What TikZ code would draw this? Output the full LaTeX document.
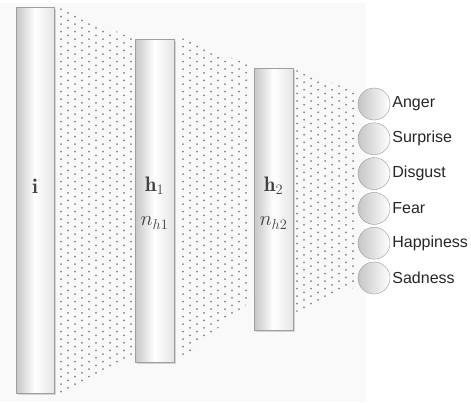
\documentclass[tikz,border=0pt]{standalone}
\usepackage{fontspec}
\setsansfont{Liberation Sans}
\usetikzlibrary{positioning,shadows}

\definecolor{bgpanel}{RGB}{248,249,248}
\definecolor{dotgray}{RGB}{130,130,130}
\definecolor{labelgray}{RGB}{65,65,65}

\begin{document}
\begin{tikzpicture}[x=1pt,y=-1pt,
layernode/.style={rectangle, draw=gray!75, thin, inner sep=0pt,
  left color=gray!45, right color=gray!20, middle color=white,
  drop shadow={shadow xshift=1.5pt, shadow yshift=-1.5pt, opacity=0.3}},
mathlabel/.style={font=\fontsize{21}{24}\selectfont, text=labelgray},
classnode/.style={circle, draw=gray!80, thin, minimum size=32pt, inner sep=0pt,
  left color=gray!45, right color=white},
classlabel/.style={font=\sffamily\fontsize{16}{18}\selectfont, text=black!85, anchor=west, inner sep=0pt},
]

\useasboundingbox (0,0) rectangle (471,402);
\fill[bgpanel] (0,3) rectangle (366,402);

% Dot fields between the layers
\begin{scope}
\clip (60,8) -- (132,38) -- (132,358) -- (60,394) -- cycle;
\foreach \i in {0,...,10}
  \foreach \j in {0,...,52}
    \fill[dotgray] ({61+7*\i},{9+7.5*\j+3.75*mod(\i,2)}) circle (1);
\end{scope}

\begin{scope}
\clip (182,38) -- (252,66) -- (252,300) -- (182,358) -- cycle;
\foreach \i in {0,...,10}
  \foreach \j in {0,...,44}
    \fill[dotgray] ({183+7*\i},{39+7.5*\j+3.75*mod(\i,2)}) circle (1);
\end{scope}

\begin{scope}
\clip (296,70) -- (358,92) -- (358,286) -- (296,312) -- cycle;
\foreach \i in {0,...,9}
  \foreach \j in {0,...,33}
    \fill[dotgray] ({297+7*\i},{71+7.5*\j+3.75*mod(\i,2)}) circle (1);
\end{scope}

% Layers
\node[layernode, minimum width=38pt, minimum height=386pt] (inp) at (35,200) {};
\node[layernode, minimum width=39pt, minimum height=323pt] (hid1) at (154.5,200.5) {};
\node[layernode, minimum width=39pt, minimum height=262pt] (hid2) at (273.5,199) {};

\node[mathlabel] (inplab) at (35,186) {$\mathbf{i}$};
\node[mathlabel] (h1lab) at (154.5,186) {$\mathbf{h}_1$};
\node[mathlabel] (n1lab) at (154.5,223) {$n_{h1}$};
\node[mathlabel] (h2lab) at (273.5,186) {$\mathbf{h}_2$};
\node[mathlabel] (n2lab) at (273.5,223) {$n_{h2}$};

% Output classes
\foreach \name/\k in {Anger/0, Surprise/1, Disgust/2, Fear/3, Happiness/4, Sadness/5} {
  \node[classnode] (c\k) at (374,{104+34.8*\k}) {};
  \node[classlabel] (l\k) at ([xshift=2pt]c\k.east) {\name};
}

\end{tikzpicture}
\end{document}
